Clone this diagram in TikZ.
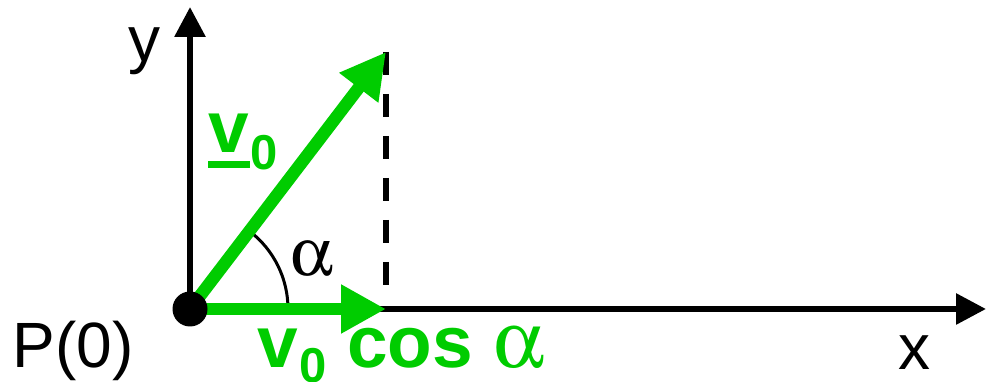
\documentclass[tikz,border=0pt]{standalone}
\usepackage{fontspec}
\usepackage{graphicx}
\usepackage[Symbol]{upgreek}
\setmainfont{Liberation Sans}
\usetikzlibrary{arrows.meta}
\definecolor{vgreen}{RGB}{0,204,0}
\newcommand{\bigalpha}[1]{\scalebox{#1}{\normalsize$\upalpha$}}
\begin{document}
\begin{tikzpicture}[x=1pt,y=1pt,
  axis/.style={line width=6pt,-{Triangle[length=30pt,width=30pt]}},
  vec/.style={vgreen,line width=12.5pt,-{Triangle[length=45pt,width=46pt]}},
  lbl/.style={inner sep=0pt,anchor=base,font=\fontsize{64}{70}\selectfont},
  glbl/.style={inner sep=0pt,anchor=base west,text=vgreen,font=\bfseries\fontsize{73}{80}\selectfont}]
\useasboundingbox (0,0) rectangle (986,382);
\coordinate (O) at (190,73);
\coordinate (ytip) at (190,375);
\coordinate (xtip) at (986,73);
\coordinate (vtip) at (386,330);
\coordinate (ctip) at (386,73);
\coordinate (dbot) at (386,94);
% axes
\draw[axis] (O) -- (xtip);
\draw[axis] (O) -- (ytip);
% dashed projection
\draw[line width=6pt,dash pattern=on 23pt off 19pt] (vtip) -- (dbot);
% angle arc
\draw[line width=3pt] ([shift={(0:98)}]O) arc[start angle=0,end angle=52.6,radius=98];
% vectors
\draw[vec] (O) -- (vtip);
\draw[vec] (O) -- (ctip);
% point
\node[circle,fill=black,minimum size=35pt,inner sep=0pt] (P) at (O) {};
% labels
\node[lbl] (ylab) at (144,320) {y};
\node[lbl] (xlab) at (914,12) {x};
\node[lbl] (plab) at (73,14) {P(0)};
\node[inner sep=0pt,anchor=base] (alab) at (312,106) {\bigalpha{6.8}};
\node[glbl] (v0lab) at (208,229) {\rlap{\rule[-15pt]{42pt}{7pt}}v\hspace{2pt}\raisebox{-17pt}{\fontsize{49}{55}\selectfont 0}};
\node[glbl] (vclab) at (257,14) {v\hspace{2pt}\raisebox{-15pt}{\fontsize{49}{55}\selectfont 0} cos \bigalpha{8.1}};
\end{tikzpicture}
\end{document}
